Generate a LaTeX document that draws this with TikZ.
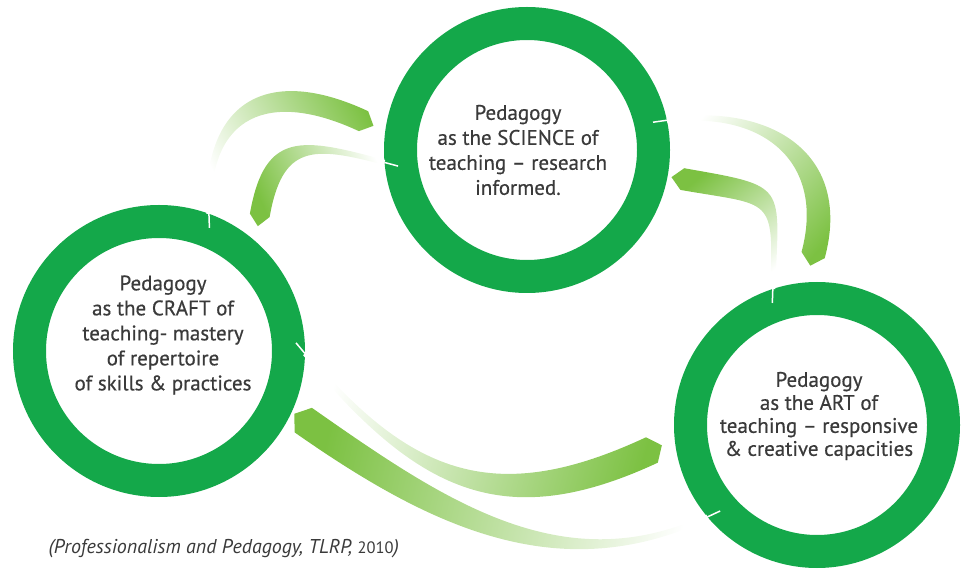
\documentclass[tikz,border=0pt]{standalone}
\usepackage{fontspec}
\setmainfont{PT Sans}
\newfontfamily\lblfont[FakeBold=0.5,Ligatures=TeX]{PT Sans}
\usetikzlibrary{calc}

\definecolor{ringgreen}{RGB}{20,168,74}
\definecolor{arrowgreen}{RGB}{124,193,66}
\definecolor{textgrey}{RGB}{58,58,58}

% tapered band from tail to head, shaded in towards the head
\newcommand{\bandarrow}[7]{%
  \pgfmathsetmacro{\arrIn}{#4+180}%
  \pgfmathsetmacro{\arrHL}{#4+90}%
  \pgfmathsetmacro{\arrHR}{#4-90}%
  \pgfmathsetmacro{\arrTL}{#2+90}%
  \pgfmathsetmacro{\arrTR}{#2-90}%
  \pgfmathsetmacro{\arrW}{#5/2}%
  \shade[top color=arrowgreen, bottom color=white, shading angle=#7]
    ($(#1)+(\arrTL:2.5)$) to[out=#2, in=\arrIn, looseness=#6] ($(#3)+(\arrHL:\arrW)$)
    -- ($(#3)+(#4:11)$)
    -- ($(#3)+(\arrHR:\arrW)$) to[out=\arrIn, in=#2, looseness=#6] ($(#1)+(\arrTR:2.5)$)
    -- cycle;
}

\begin{document}
\begin{tikzpicture}[x=1pt,y=1pt,
    ring/.style={circle,draw=ringgreen,line width=33pt,minimum size=#1,inner sep=0pt},
    lbl/.style={align=center,text=textgrey,font=\lblfont\fontsize{21}{25}\selectfont},
    slit/.style={draw=white,line width=1.5pt}]
  \useasboundingbox (0,0) rectangle (962,-569);

  \node[ring=253pt] (sci)   at (527,-150) {};
  \node[ring=259pt] (craft) at (159,-351) {};
  \node[ring=253pt] (art)   at (817,-425) {};

  \node[lbl] (scitext)   at ($(sci)+(-9,0)$)  {Pedagogy\\as the SCIENCE of\\teaching – research\\informed.};
  \node[lbl] (crafttext) at ($(craft)+(4,16)$) {Pedagogy\\as the CRAFT of\\teaching- mastery\\of repertoire\\of skills \& practices};
  \node[lbl,font=\lblfont\fontsize{21}{23}\selectfont] (arttext) at ($(art)+(2,9)$)
    {Pedagogy\\as the ART of\\teaching – responsive\\\& creative capacities};

  % head ends, just off the rings
  \coordinate (a1) at ($(sci.center)+(170:166)$);
  \coordinate (a2) at ($(craft.center)+(53.4:169)$);
  \coordinate (b1) at ($(art.center)+(91.3:170)$);
  \coordinate (b2) at ($(sci.center)+(-10.6:158)$);
  \coordinate (c1) at ($(art.center)+(188.6:167)$);
  \coordinate (c2) at ($(craft.center)+(-25.6:160)$);

  \bandarrow{craft.70}{92}{a1}{-25}{22}{1.5}{-61}
  \bandarrow{sci.185}{165}{a2}{-100}{20}{1.5}{114}
  \bandarrow{sci.12}{8}{b1}{-105}{24}{1.3}{-131}
  \bandarrow{art.108}{88}{b2}{170}{22}{1.8}{38.6}
  \bandarrow{craft.359}{-50}{c1}{25}{28}{1.2}{-105.5}
  \bandarrow{art.220}{205}{c2}{145}{30}{1.0}{77}

  \draw[slit] (craft.70) -- ++(272:14);
  \draw[slit] (sci.185) -- ++(-15:14);
  \draw[slit] (sci.12) -- ++(188:14);
  \draw[slit] (art.108) -- ++(268:14);
  \draw[slit] (craft.359) -- ++(130:14);
  \draw[slit] (art.220) -- ++(25:14);

  \node[anchor=base west,text=textgrey,font=\fontsize{20}{24}\selectfont\itshape] (source) at (45,-553)
    {(Professionalism and Pedagogy, TLRP, {\upshape\fontsize{16.5}{20}\selectfont 2010})};
\end{tikzpicture}
\end{document}
